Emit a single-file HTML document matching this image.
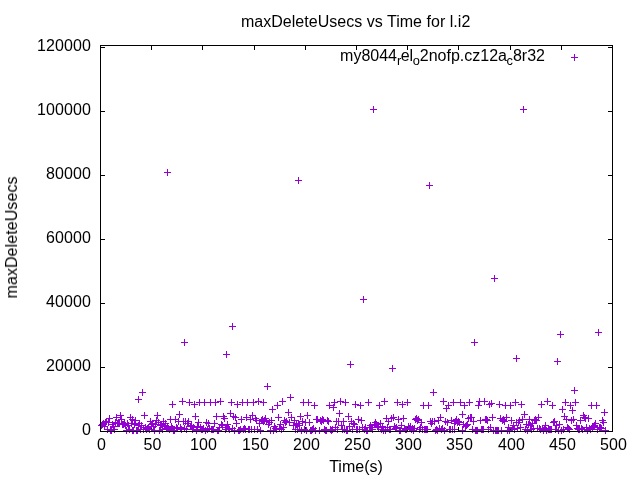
<!DOCTYPE html>
<html><head><meta charset="utf-8"><title>maxDeleteUsecs vs Time for l.i2</title>
<style>
html,body{margin:0;padding:0;background:#fff;}
body{width:640px;height:480px;overflow:hidden;}
svg{display:block;}
.t{will-change:transform;}
text{font-family:"Liberation Sans",Arial,sans-serif;font-size:16px;fill:#000;}
.b{fill:#000;}
.p{fill:#9400d3;}
</style></head><body>
<svg width="640" height="480" viewBox="0 0 640 480">
<rect x="0" y="0" width="640" height="480" fill="#fff"/>
<g shape-rendering="crispEdges">

<rect class="b" x="100" y="427" width="1" height="5"/>
<rect class="b" x="100" y="45" width="1" height="5"/>
<rect class="b" x="151" y="427" width="1" height="5"/>
<rect class="b" x="151" y="45" width="1" height="5"/>
<rect class="b" x="202" y="427" width="1" height="5"/>
<rect class="b" x="202" y="45" width="1" height="5"/>
<rect class="b" x="254" y="427" width="1" height="5"/>
<rect class="b" x="254" y="45" width="1" height="5"/>
<rect class="b" x="305" y="427" width="1" height="5"/>
<rect class="b" x="305" y="45" width="1" height="5"/>
<rect class="b" x="356" y="427" width="1" height="5"/>
<rect class="b" x="356" y="45" width="1" height="5"/>
<rect class="b" x="407" y="427" width="1" height="5"/>
<rect class="b" x="407" y="45" width="1" height="5"/>
<rect class="b" x="458" y="427" width="1" height="5"/>
<rect class="b" x="458" y="45" width="1" height="5"/>
<rect class="b" x="510" y="427" width="1" height="5"/>
<rect class="b" x="510" y="45" width="1" height="5"/>
<rect class="b" x="561" y="427" width="1" height="5"/>
<rect class="b" x="561" y="45" width="1" height="5"/>
<rect class="b" x="612" y="427" width="1" height="5"/>
<rect class="b" x="612" y="45" width="1" height="5"/>
<rect class="b" x="100" y="431" width="5" height="1"/>
<rect class="b" x="608" y="431" width="5" height="1"/>
<rect class="b" x="100" y="367" width="5" height="1"/>
<rect class="b" x="608" y="367" width="5" height="1"/>
<rect class="b" x="100" y="303" width="5" height="1"/>
<rect class="b" x="608" y="303" width="5" height="1"/>
<rect class="b" x="100" y="239" width="5" height="1"/>
<rect class="b" x="608" y="239" width="5" height="1"/>
<rect class="b" x="100" y="175" width="5" height="1"/>
<rect class="b" x="608" y="175" width="5" height="1"/>
<rect class="b" x="100" y="111" width="5" height="1"/>
<rect class="b" x="608" y="111" width="5" height="1"/>
<rect class="b" x="100" y="47" width="5" height="1"/>
<rect class="b" x="608" y="47" width="5" height="1"/>
<path class="p" d="M98 425h7v1h-7zM101 422h1v7h-1z"/>
<path class="p" d="M99 424h7v1h-7zM102 421h1v7h-1z"/>
<path class="p" d="M100 423h7v1h-7zM103 420h1v7h-1z"/>
<path class="p" d="M101 426h7v1h-7zM104 423h1v7h-1z"/>
<path class="p" d="M102 422h7v1h-7zM105 419h1v7h-1z"/>
<path class="p" d="M103 421h7v1h-7zM106 418h1v7h-1z"/>
<path class="p" d="M104 429h7v1h-7zM107 426h1v7h-1z"/>
<path class="p" d="M105 422h7v1h-7zM108 419h1v7h-1z"/>
<path class="p" d="M106 418h7v1h-7zM109 415h1v7h-1z"/>
<path class="p" d="M107 430h7v1h-7zM110 427h1v7h-1z"/>
<path class="p" d="M108 430h7v1h-7zM111 427h1v7h-1z"/>
<path class="p" d="M109 424h7v1h-7zM112 421h1v7h-1z"/>
<path class="p" d="M110 426h7v1h-7zM113 423h1v7h-1z"/>
<path class="p" d="M111 429h7v1h-7zM114 426h1v7h-1z"/>
<path class="p" d="M112 422h7v1h-7zM115 419h1v7h-1z"/>
<path class="p" d="M113 417h7v1h-7zM116 414h1v7h-1z"/>
<path class="p" d="M114 423h7v1h-7zM117 420h1v7h-1z"/>
<path class="p" d="M115 423h7v1h-7zM118 420h1v7h-1z"/>
<path class="p" d="M116 423h7v1h-7zM119 420h1v7h-1z"/>
<path class="p" d="M117 415h7v1h-7zM120 412h1v7h-1z"/>
<path class="p" d="M118 419h7v1h-7zM121 416h1v7h-1z"/>
<path class="p" d="M119 424h7v1h-7zM122 421h1v7h-1z"/>
<path class="p" d="M120 424h7v1h-7zM123 421h1v7h-1z"/>
<path class="p" d="M121 423h7v1h-7zM124 420h1v7h-1z"/>
<path class="p" d="M122 425h7v1h-7zM125 422h1v7h-1z"/>
<path class="p" d="M123 430h7v1h-7zM126 427h1v7h-1z"/>
<path class="p" d="M124 423h7v1h-7zM127 420h1v7h-1z"/>
<path class="p" d="M125 425h7v1h-7zM128 422h1v7h-1z"/>
<path class="p" d="M126 429h7v1h-7zM129 426h1v7h-1z"/>
<path class="p" d="M127 417h7v1h-7zM130 414h1v7h-1z"/>
<path class="p" d="M128 423h7v1h-7zM131 420h1v7h-1z"/>
<path class="p" d="M129 419h7v1h-7zM132 416h1v7h-1z"/>
<path class="p" d="M129 430h7v1h-7zM132 427h1v7h-1z"/>
<path class="p" d="M130 430h7v1h-7zM133 427h1v7h-1z"/>
<path class="p" d="M131 424h7v1h-7zM134 421h1v7h-1z"/>
<path class="p" d="M132 420h7v1h-7zM135 417h1v7h-1z"/>
<path class="p" d="M133 430h7v1h-7zM136 427h1v7h-1z"/>
<path class="p" d="M134 430h7v1h-7zM137 427h1v7h-1z"/>
<path class="p" d="M135 399h7v1h-7zM138 396h1v7h-1z"/>
<path class="p" d="M135 425h7v1h-7zM138 422h1v7h-1z"/>
<path class="p" d="M136 423h7v1h-7zM139 420h1v7h-1z"/>
<path class="p" d="M137 429h7v1h-7zM140 426h1v7h-1z"/>
<path class="p" d="M138 425h7v1h-7zM141 422h1v7h-1z"/>
<path class="p" d="M139 392h7v1h-7zM142 389h1v7h-1z"/>
<path class="p" d="M140 429h7v1h-7zM143 426h1v7h-1z"/>
<path class="p" d="M141 415h7v1h-7zM144 412h1v7h-1z"/>
<path class="p" d="M142 427h7v1h-7zM145 424h1v7h-1z"/>
<path class="p" d="M143 429h7v1h-7zM146 426h1v7h-1z"/>
<path class="p" d="M144 428h7v1h-7zM147 425h1v7h-1z"/>
<path class="p" d="M145 427h7v1h-7zM148 424h1v7h-1z"/>
<path class="p" d="M146 429h7v1h-7zM149 426h1v7h-1z"/>
<path class="p" d="M147 421h7v1h-7zM150 418h1v7h-1z"/>
<path class="p" d="M148 424h7v1h-7zM151 421h1v7h-1z"/>
<path class="p" d="M149 423h7v1h-7zM152 420h1v7h-1z"/>
<path class="p" d="M150 426h7v1h-7zM153 423h1v7h-1z"/>
<path class="p" d="M151 430h7v1h-7zM154 427h1v7h-1z"/>
<path class="p" d="M152 424h7v1h-7zM155 421h1v7h-1z"/>
<path class="p" d="M153 420h7v1h-7zM156 417h1v7h-1z"/>
<path class="p" d="M154 415h7v1h-7zM157 412h1v7h-1z"/>
<path class="p" d="M155 422h7v1h-7zM158 419h1v7h-1z"/>
<path class="p" d="M156 430h7v1h-7zM159 427h1v7h-1z"/>
<path class="p" d="M157 425h7v1h-7zM160 422h1v7h-1z"/>
<path class="p" d="M158 424h7v1h-7zM161 421h1v7h-1z"/>
<path class="p" d="M159 429h7v1h-7zM162 426h1v7h-1z"/>
<path class="p" d="M160 421h7v1h-7zM163 418h1v7h-1z"/>
<path class="p" d="M161 426h7v1h-7zM164 423h1v7h-1z"/>
<path class="p" d="M162 423h7v1h-7zM165 420h1v7h-1z"/>
<path class="p" d="M163 428h7v1h-7zM166 425h1v7h-1z"/>
<path class="p" d="M164 172h7v1h-7zM167 169h1v7h-1z"/>
<path class="p" d="M164 427h7v1h-7zM167 424h1v7h-1z"/>
<path class="p" d="M165 428h7v1h-7zM168 425h1v7h-1z"/>
<path class="p" d="M166 429h7v1h-7zM169 426h1v7h-1z"/>
<path class="p" d="M167 419h7v1h-7zM170 416h1v7h-1z"/>
<path class="p" d="M168 426h7v1h-7zM171 423h1v7h-1z"/>
<path class="p" d="M169 404h7v1h-7zM172 401h1v7h-1z"/>
<path class="p" d="M169 428h7v1h-7zM172 425h1v7h-1z"/>
<path class="p" d="M170 430h7v1h-7zM173 427h1v7h-1z"/>
<path class="p" d="M171 430h7v1h-7zM174 427h1v7h-1z"/>
<path class="p" d="M172 419h7v1h-7zM175 416h1v7h-1z"/>
<path class="p" d="M173 427h7v1h-7zM176 424h1v7h-1z"/>
<path class="p" d="M174 428h7v1h-7zM177 425h1v7h-1z"/>
<path class="p" d="M175 421h7v1h-7zM178 418h1v7h-1z"/>
<path class="p" d="M176 414h7v1h-7zM179 411h1v7h-1z"/>
<path class="p" d="M177 427h7v1h-7zM180 424h1v7h-1z"/>
<path class="p" d="M178 429h7v1h-7zM181 426h1v7h-1z"/>
<path class="p" d="M179 401h7v1h-7zM182 398h1v7h-1z"/>
<path class="p" d="M180 421h7v1h-7zM183 418h1v7h-1z"/>
<path class="p" d="M181 342h7v1h-7zM184 339h1v7h-1z"/>
<path class="p" d="M181 428h7v1h-7zM184 425h1v7h-1z"/>
<path class="p" d="M182 421h7v1h-7zM185 418h1v7h-1z"/>
<path class="p" d="M183 429h7v1h-7zM186 426h1v7h-1z"/>
<path class="p" d="M184 423h7v1h-7zM187 420h1v7h-1z"/>
<path class="p" d="M185 421h7v1h-7zM188 418h1v7h-1z"/>
<path class="p" d="M186 402h7v1h-7zM189 399h1v7h-1z"/>
<path class="p" d="M187 426h7v1h-7zM190 423h1v7h-1z"/>
<path class="p" d="M188 425h7v1h-7zM191 422h1v7h-1z"/>
<path class="p" d="M189 429h7v1h-7zM192 426h1v7h-1z"/>
<path class="p" d="M190 427h7v1h-7zM193 424h1v7h-1z"/>
<path class="p" d="M191 404h7v1h-7zM194 401h1v7h-1z"/>
<path class="p" d="M192 416h7v1h-7zM195 413h1v7h-1z"/>
<path class="p" d="M193 430h7v1h-7zM196 427h1v7h-1z"/>
<path class="p" d="M194 426h7v1h-7zM197 423h1v7h-1z"/>
<path class="p" d="M195 422h7v1h-7zM198 419h1v7h-1z"/>
<path class="p" d="M196 402h7v1h-7zM199 399h1v7h-1z"/>
<path class="p" d="M197 427h7v1h-7zM200 424h1v7h-1z"/>
<path class="p" d="M198 429h7v1h-7zM201 426h1v7h-1z"/>
<path class="p" d="M199 429h7v1h-7zM202 426h1v7h-1z"/>
<path class="p" d="M200 428h7v1h-7zM203 425h1v7h-1z"/>
<path class="p" d="M201 402h7v1h-7zM204 399h1v7h-1z"/>
<path class="p" d="M202 430h7v1h-7zM205 427h1v7h-1z"/>
<path class="p" d="M203 422h7v1h-7zM206 419h1v7h-1z"/>
<path class="p" d="M204 429h7v1h-7zM207 426h1v7h-1z"/>
<path class="p" d="M205 423h7v1h-7zM208 420h1v7h-1z"/>
<path class="p" d="M206 428h7v1h-7zM209 425h1v7h-1z"/>
<path class="p" d="M207 402h7v1h-7zM210 399h1v7h-1z"/>
<path class="p" d="M208 429h7v1h-7zM211 426h1v7h-1z"/>
<path class="p" d="M209 429h7v1h-7zM212 426h1v7h-1z"/>
<path class="p" d="M210 429h7v1h-7zM213 426h1v7h-1z"/>
<path class="p" d="M211 423h7v1h-7zM214 420h1v7h-1z"/>
<path class="p" d="M212 402h7v1h-7zM215 399h1v7h-1z"/>
<path class="p" d="M213 416h7v1h-7zM216 413h1v7h-1z"/>
<path class="p" d="M214 430h7v1h-7zM217 427h1v7h-1z"/>
<path class="p" d="M215 430h7v1h-7zM218 427h1v7h-1z"/>
<path class="p" d="M216 427h7v1h-7zM219 424h1v7h-1z"/>
<path class="p" d="M217 401h7v1h-7zM220 398h1v7h-1z"/>
<path class="p" d="M218 424h7v1h-7zM221 421h1v7h-1z"/>
<path class="p" d="M219 425h7v1h-7zM222 422h1v7h-1z"/>
<path class="p" d="M220 416h7v1h-7zM223 413h1v7h-1z"/>
<path class="p" d="M221 418h7v1h-7zM224 415h1v7h-1z"/>
<path class="p" d="M222 429h7v1h-7zM225 426h1v7h-1z"/>
<path class="p" d="M223 354h7v1h-7zM226 351h1v7h-1z"/>
<path class="p" d="M223 427h7v1h-7zM226 424h1v7h-1z"/>
<path class="p" d="M224 424h7v1h-7zM227 421h1v7h-1z"/>
<path class="p" d="M225 428h7v1h-7zM228 425h1v7h-1z"/>
<path class="p" d="M226 429h7v1h-7zM229 426h1v7h-1z"/>
<path class="p" d="M227 413h7v1h-7zM230 410h1v7h-1z"/>
<path class="p" d="M228 402h7v1h-7zM231 399h1v7h-1z"/>
<path class="p" d="M229 326h7v1h-7zM232 323h1v7h-1z"/>
<path class="p" d="M229 428h7v1h-7zM232 425h1v7h-1z"/>
<path class="p" d="M230 416h7v1h-7zM233 413h1v7h-1z"/>
<path class="p" d="M231 430h7v1h-7zM234 427h1v7h-1z"/>
<path class="p" d="M232 417h7v1h-7zM235 414h1v7h-1z"/>
<path class="p" d="M233 423h7v1h-7zM236 420h1v7h-1z"/>
<path class="p" d="M234 404h7v1h-7zM237 401h1v7h-1z"/>
<path class="p" d="M235 430h7v1h-7zM238 427h1v7h-1z"/>
<path class="p" d="M236 430h7v1h-7zM239 427h1v7h-1z"/>
<path class="p" d="M237 429h7v1h-7zM240 426h1v7h-1z"/>
<path class="p" d="M238 419h7v1h-7zM241 416h1v7h-1z"/>
<path class="p" d="M239 402h7v1h-7zM242 399h1v7h-1z"/>
<path class="p" d="M240 429h7v1h-7zM243 426h1v7h-1z"/>
<path class="p" d="M241 428h7v1h-7zM244 425h1v7h-1z"/>
<path class="p" d="M242 429h7v1h-7zM245 426h1v7h-1z"/>
<path class="p" d="M243 417h7v1h-7zM246 414h1v7h-1z"/>
<path class="p" d="M244 402h7v1h-7zM247 399h1v7h-1z"/>
<path class="p" d="M245 429h7v1h-7zM248 426h1v7h-1z"/>
<path class="p" d="M246 429h7v1h-7zM249 426h1v7h-1z"/>
<path class="p" d="M247 419h7v1h-7zM250 416h1v7h-1z"/>
<path class="p" d="M248 429h7v1h-7zM251 426h1v7h-1z"/>
<path class="p" d="M249 415h7v1h-7zM252 412h1v7h-1z"/>
<path class="p" d="M250 402h7v1h-7zM253 399h1v7h-1z"/>
<path class="p" d="M251 429h7v1h-7zM254 426h1v7h-1z"/>
<path class="p" d="M252 418h7v1h-7zM255 415h1v7h-1z"/>
<path class="p" d="M253 420h7v1h-7zM256 417h1v7h-1z"/>
<path class="p" d="M254 429h7v1h-7zM257 426h1v7h-1z"/>
<path class="p" d="M255 401h7v1h-7zM258 398h1v7h-1z"/>
<path class="p" d="M256 423h7v1h-7zM259 420h1v7h-1z"/>
<path class="p" d="M257 430h7v1h-7zM260 427h1v7h-1z"/>
<path class="p" d="M258 420h7v1h-7zM261 417h1v7h-1z"/>
<path class="p" d="M259 419h7v1h-7zM262 416h1v7h-1z"/>
<path class="p" d="M260 402h7v1h-7zM263 399h1v7h-1z"/>
<path class="p" d="M260 421h7v1h-7zM263 418h1v7h-1z"/>
<path class="p" d="M261 420h7v1h-7zM264 417h1v7h-1z"/>
<path class="p" d="M262 418h7v1h-7zM265 415h1v7h-1z"/>
<path class="p" d="M263 421h7v1h-7zM266 418h1v7h-1z"/>
<path class="p" d="M264 386h7v1h-7zM267 383h1v7h-1z"/>
<path class="p" d="M265 424h7v1h-7zM268 421h1v7h-1z"/>
<path class="p" d="M266 422h7v1h-7zM269 419h1v7h-1z"/>
<path class="p" d="M267 430h7v1h-7zM270 427h1v7h-1z"/>
<path class="p" d="M268 420h7v1h-7zM271 417h1v7h-1z"/>
<path class="p" d="M269 409h7v1h-7zM272 406h1v7h-1z"/>
<path class="p" d="M270 430h7v1h-7zM273 427h1v7h-1z"/>
<path class="p" d="M271 426h7v1h-7zM274 423h1v7h-1z"/>
<path class="p" d="M272 428h7v1h-7zM275 425h1v7h-1z"/>
<path class="p" d="M273 429h7v1h-7zM276 426h1v7h-1z"/>
<path class="p" d="M274 405h7v1h-7zM277 402h1v7h-1z"/>
<path class="p" d="M275 417h7v1h-7zM278 414h1v7h-1z"/>
<path class="p" d="M276 428h7v1h-7zM279 425h1v7h-1z"/>
<path class="p" d="M277 424h7v1h-7zM280 421h1v7h-1z"/>
<path class="p" d="M278 429h7v1h-7zM281 426h1v7h-1z"/>
<path class="p" d="M279 401h7v1h-7zM282 398h1v7h-1z"/>
<path class="p" d="M280 427h7v1h-7zM283 424h1v7h-1z"/>
<path class="p" d="M281 420h7v1h-7zM284 417h1v7h-1z"/>
<path class="p" d="M282 422h7v1h-7zM285 419h1v7h-1z"/>
<path class="p" d="M283 421h7v1h-7zM286 418h1v7h-1z"/>
<path class="p" d="M285 412h7v1h-7zM288 409h1v7h-1z"/>
<path class="p" d="M286 422h7v1h-7zM289 419h1v7h-1z"/>
<path class="p" d="M287 397h7v1h-7zM290 394h1v7h-1z"/>
<path class="p" d="M288 417h7v1h-7zM291 414h1v7h-1z"/>
<path class="p" d="M290 425h7v1h-7zM293 422h1v7h-1z"/>
<path class="p" d="M291 420h7v1h-7zM294 417h1v7h-1z"/>
<path class="p" d="M292 429h7v1h-7zM295 426h1v7h-1z"/>
<path class="p" d="M293 424h7v1h-7zM296 421h1v7h-1z"/>
<path class="p" d="M294 429h7v1h-7zM297 426h1v7h-1z"/>
<path class="p" d="M295 180h7v1h-7zM298 177h1v7h-1z"/>
<path class="p" d="M295 423h7v1h-7zM298 420h1v7h-1z"/>
<path class="p" d="M296 425h7v1h-7zM299 422h1v7h-1z"/>
<path class="p" d="M297 416h7v1h-7zM300 413h1v7h-1z"/>
<path class="p" d="M298 430h7v1h-7zM301 427h1v7h-1z"/>
<path class="p" d="M299 421h7v1h-7zM302 418h1v7h-1z"/>
<path class="p" d="M300 402h7v1h-7zM303 399h1v7h-1z"/>
<path class="p" d="M301 429h7v1h-7zM304 426h1v7h-1z"/>
<path class="p" d="M302 422h7v1h-7zM305 419h1v7h-1z"/>
<path class="p" d="M303 430h7v1h-7zM306 427h1v7h-1z"/>
<path class="p" d="M304 415h7v1h-7zM307 412h1v7h-1z"/>
<path class="p" d="M305 402h7v1h-7zM308 399h1v7h-1z"/>
<path class="p" d="M306 422h7v1h-7zM309 419h1v7h-1z"/>
<path class="p" d="M307 430h7v1h-7zM310 427h1v7h-1z"/>
<path class="p" d="M308 430h7v1h-7zM311 427h1v7h-1z"/>
<path class="p" d="M309 429h7v1h-7zM312 426h1v7h-1z"/>
<path class="p" d="M310 428h7v1h-7zM313 425h1v7h-1z"/>
<path class="p" d="M311 405h7v1h-7zM314 402h1v7h-1z"/>
<path class="p" d="M312 430h7v1h-7zM315 427h1v7h-1z"/>
<path class="p" d="M313 419h7v1h-7zM316 416h1v7h-1z"/>
<path class="p" d="M314 419h7v1h-7zM317 416h1v7h-1z"/>
<path class="p" d="M316 430h7v1h-7zM319 427h1v7h-1z"/>
<path class="p" d="M317 420h7v1h-7zM320 417h1v7h-1z"/>
<path class="p" d="M318 421h7v1h-7zM321 418h1v7h-1z"/>
<path class="p" d="M319 419h7v1h-7zM322 416h1v7h-1z"/>
<path class="p" d="M320 420h7v1h-7zM323 417h1v7h-1z"/>
<path class="p" d="M321 429h7v1h-7zM324 426h1v7h-1z"/>
<path class="p" d="M322 430h7v1h-7zM325 427h1v7h-1z"/>
<path class="p" d="M323 430h7v1h-7zM326 427h1v7h-1z"/>
<path class="p" d="M324 420h7v1h-7zM327 417h1v7h-1z"/>
<path class="p" d="M325 421h7v1h-7zM328 418h1v7h-1z"/>
<path class="p" d="M326 405h7v1h-7zM329 402h1v7h-1z"/>
<path class="p" d="M327 429h7v1h-7zM330 426h1v7h-1z"/>
<path class="p" d="M328 430h7v1h-7zM331 427h1v7h-1z"/>
<path class="p" d="M329 429h7v1h-7zM332 426h1v7h-1z"/>
<path class="p" d="M330 407h7v1h-7zM333 404h1v7h-1z"/>
<path class="p" d="M331 402h7v1h-7zM334 399h1v7h-1z"/>
<path class="p" d="M332 427h7v1h-7zM335 424h1v7h-1z"/>
<path class="p" d="M333 421h7v1h-7zM336 418h1v7h-1z"/>
<path class="p" d="M334 429h7v1h-7zM337 426h1v7h-1z"/>
<path class="p" d="M335 421h7v1h-7zM338 418h1v7h-1z"/>
<path class="p" d="M336 413h7v1h-7zM339 410h1v7h-1z"/>
<path class="p" d="M337 401h7v1h-7zM340 398h1v7h-1z"/>
<path class="p" d="M338 425h7v1h-7zM341 422h1v7h-1z"/>
<path class="p" d="M339 429h7v1h-7zM342 426h1v7h-1z"/>
<path class="p" d="M340 421h7v1h-7zM343 418h1v7h-1z"/>
<path class="p" d="M341 429h7v1h-7zM344 426h1v7h-1z"/>
<path class="p" d="M342 402h7v1h-7zM345 399h1v7h-1z"/>
<path class="p" d="M343 430h7v1h-7zM346 427h1v7h-1z"/>
<path class="p" d="M344 430h7v1h-7zM347 427h1v7h-1z"/>
<path class="p" d="M345 416h7v1h-7zM348 413h1v7h-1z"/>
<path class="p" d="M346 426h7v1h-7zM349 423h1v7h-1z"/>
<path class="p" d="M347 364h7v1h-7zM350 361h1v7h-1z"/>
<path class="p" d="M348 421h7v1h-7zM351 418h1v7h-1z"/>
<path class="p" d="M349 429h7v1h-7zM352 426h1v7h-1z"/>
<path class="p" d="M350 423h7v1h-7zM353 420h1v7h-1z"/>
<path class="p" d="M351 424h7v1h-7zM354 421h1v7h-1z"/>
<path class="p" d="M352 404h7v1h-7zM355 401h1v7h-1z"/>
<path class="p" d="M353 429h7v1h-7zM356 426h1v7h-1z"/>
<path class="p" d="M354 429h7v1h-7zM357 426h1v7h-1z"/>
<path class="p" d="M355 419h7v1h-7zM358 416h1v7h-1z"/>
<path class="p" d="M356 429h7v1h-7zM359 426h1v7h-1z"/>
<path class="p" d="M357 405h7v1h-7zM360 402h1v7h-1z"/>
<path class="p" d="M358 420h7v1h-7zM361 417h1v7h-1z"/>
<path class="p" d="M359 427h7v1h-7zM362 424h1v7h-1z"/>
<path class="p" d="M360 299h7v1h-7zM363 296h1v7h-1z"/>
<path class="p" d="M361 429h7v1h-7zM364 426h1v7h-1z"/>
<path class="p" d="M362 427h7v1h-7zM365 424h1v7h-1z"/>
<path class="p" d="M363 430h7v1h-7zM366 427h1v7h-1z"/>
<path class="p" d="M364 430h7v1h-7zM367 427h1v7h-1z"/>
<path class="p" d="M365 402h7v1h-7zM368 399h1v7h-1z"/>
<path class="p" d="M366 427h7v1h-7zM369 424h1v7h-1z"/>
<path class="p" d="M367 425h7v1h-7zM370 422h1v7h-1z"/>
<path class="p" d="M368 427h7v1h-7zM371 424h1v7h-1z"/>
<path class="p" d="M369 429h7v1h-7zM372 426h1v7h-1z"/>
<path class="p" d="M370 109h7v1h-7zM373 106h1v7h-1z"/>
<path class="p" d="M371 424h7v1h-7zM374 421h1v7h-1z"/>
<path class="p" d="M372 422h7v1h-7zM375 419h1v7h-1z"/>
<path class="p" d="M373 424h7v1h-7zM376 421h1v7h-1z"/>
<path class="p" d="M374 426h7v1h-7zM377 423h1v7h-1z"/>
<path class="p" d="M375 427h7v1h-7zM378 424h1v7h-1z"/>
<path class="p" d="M376 405h7v1h-7zM379 402h1v7h-1z"/>
<path class="p" d="M377 423h7v1h-7zM380 420h1v7h-1z"/>
<path class="p" d="M378 429h7v1h-7zM381 426h1v7h-1z"/>
<path class="p" d="M379 426h7v1h-7zM382 423h1v7h-1z"/>
<path class="p" d="M380 430h7v1h-7zM383 427h1v7h-1z"/>
<path class="p" d="M381 401h7v1h-7zM384 398h1v7h-1z"/>
<path class="p" d="M382 430h7v1h-7zM385 427h1v7h-1z"/>
<path class="p" d="M383 418h7v1h-7zM386 415h1v7h-1z"/>
<path class="p" d="M384 427h7v1h-7zM387 424h1v7h-1z"/>
<path class="p" d="M385 421h7v1h-7zM388 418h1v7h-1z"/>
<path class="p" d="M386 429h7v1h-7zM389 426h1v7h-1z"/>
<path class="p" d="M387 429h7v1h-7zM390 426h1v7h-1z"/>
<path class="p" d="M388 418h7v1h-7zM391 415h1v7h-1z"/>
<path class="p" d="M389 368h7v1h-7zM392 365h1v7h-1z"/>
<path class="p" d="M390 417h7v1h-7zM393 414h1v7h-1z"/>
<path class="p" d="M391 426h7v1h-7zM394 423h1v7h-1z"/>
<path class="p" d="M392 428h7v1h-7zM395 425h1v7h-1z"/>
<path class="p" d="M393 427h7v1h-7zM396 424h1v7h-1z"/>
<path class="p" d="M394 402h7v1h-7zM397 399h1v7h-1z"/>
<path class="p" d="M395 419h7v1h-7zM398 416h1v7h-1z"/>
<path class="p" d="M396 430h7v1h-7zM399 427h1v7h-1z"/>
<path class="p" d="M397 430h7v1h-7zM400 427h1v7h-1z"/>
<path class="p" d="M398 425h7v1h-7zM401 422h1v7h-1z"/>
<path class="p" d="M399 404h7v1h-7zM402 401h1v7h-1z"/>
<path class="p" d="M400 418h7v1h-7zM403 415h1v7h-1z"/>
<path class="p" d="M401 428h7v1h-7zM404 425h1v7h-1z"/>
<path class="p" d="M402 429h7v1h-7zM405 426h1v7h-1z"/>
<path class="p" d="M403 429h7v1h-7zM406 426h1v7h-1z"/>
<path class="p" d="M404 402h7v1h-7zM407 399h1v7h-1z"/>
<path class="p" d="M405 426h7v1h-7zM408 423h1v7h-1z"/>
<path class="p" d="M406 428h7v1h-7zM409 425h1v7h-1z"/>
<path class="p" d="M407 426h7v1h-7zM410 423h1v7h-1z"/>
<path class="p" d="M408 429h7v1h-7zM411 426h1v7h-1z"/>
<path class="p" d="M409 428h7v1h-7zM412 425h1v7h-1z"/>
<path class="p" d="M410 430h7v1h-7zM413 427h1v7h-1z"/>
<path class="p" d="M411 428h7v1h-7zM414 425h1v7h-1z"/>
<path class="p" d="M412 419h7v1h-7zM415 416h1v7h-1z"/>
<path class="p" d="M413 418h7v1h-7zM416 415h1v7h-1z"/>
<path class="p" d="M414 420h7v1h-7zM417 417h1v7h-1z"/>
<path class="p" d="M415 419h7v1h-7zM418 416h1v7h-1z"/>
<path class="p" d="M416 429h7v1h-7zM419 426h1v7h-1z"/>
<path class="p" d="M417 427h7v1h-7zM420 424h1v7h-1z"/>
<path class="p" d="M418 422h7v1h-7zM421 419h1v7h-1z"/>
<path class="p" d="M419 429h7v1h-7zM422 426h1v7h-1z"/>
<path class="p" d="M420 405h7v1h-7zM423 402h1v7h-1z"/>
<path class="p" d="M421 429h7v1h-7zM424 426h1v7h-1z"/>
<path class="p" d="M422 429h7v1h-7zM425 426h1v7h-1z"/>
<path class="p" d="M423 429h7v1h-7zM426 426h1v7h-1z"/>
<path class="p" d="M424 429h7v1h-7zM427 426h1v7h-1z"/>
<path class="p" d="M425 405h7v1h-7zM428 402h1v7h-1z"/>
<path class="p" d="M426 185h7v1h-7zM429 182h1v7h-1z"/>
<path class="p" d="M427 421h7v1h-7zM430 418h1v7h-1z"/>
<path class="p" d="M428 423h7v1h-7zM431 420h1v7h-1z"/>
<path class="p" d="M429 421h7v1h-7zM432 418h1v7h-1z"/>
<path class="p" d="M430 392h7v1h-7zM433 389h1v7h-1z"/>
<path class="p" d="M431 421h7v1h-7zM434 418h1v7h-1z"/>
<path class="p" d="M432 430h7v1h-7zM435 427h1v7h-1z"/>
<path class="p" d="M433 429h7v1h-7zM436 426h1v7h-1z"/>
<path class="p" d="M434 430h7v1h-7zM437 427h1v7h-1z"/>
<path class="p" d="M435 420h7v1h-7zM438 417h1v7h-1z"/>
<path class="p" d="M436 428h7v1h-7zM439 425h1v7h-1z"/>
<path class="p" d="M437 417h7v1h-7zM440 414h1v7h-1z"/>
<path class="p" d="M438 429h7v1h-7zM441 426h1v7h-1z"/>
<path class="p" d="M439 428h7v1h-7zM442 425h1v7h-1z"/>
<path class="p" d="M440 401h7v1h-7zM443 398h1v7h-1z"/>
<path class="p" d="M441 430h7v1h-7zM444 427h1v7h-1z"/>
<path class="p" d="M442 421h7v1h-7zM445 418h1v7h-1z"/>
<path class="p" d="M443 408h7v1h-7zM446 405h1v7h-1z"/>
<path class="p" d="M444 422h7v1h-7zM447 419h1v7h-1z"/>
<path class="p" d="M445 405h7v1h-7zM448 402h1v7h-1z"/>
<path class="p" d="M446 429h7v1h-7zM449 426h1v7h-1z"/>
<path class="p" d="M447 429h7v1h-7zM450 426h1v7h-1z"/>
<path class="p" d="M448 420h7v1h-7zM451 417h1v7h-1z"/>
<path class="p" d="M449 429h7v1h-7zM452 426h1v7h-1z"/>
<path class="p" d="M450 402h7v1h-7zM453 399h1v7h-1z"/>
<path class="p" d="M451 423h7v1h-7zM454 420h1v7h-1z"/>
<path class="p" d="M451 429h7v1h-7zM454 426h1v7h-1z"/>
<path class="p" d="M452 421h7v1h-7zM455 418h1v7h-1z"/>
<path class="p" d="M453 419h7v1h-7zM456 416h1v7h-1z"/>
<path class="p" d="M454 422h7v1h-7zM457 419h1v7h-1z"/>
<path class="p" d="M455 421h7v1h-7zM458 418h1v7h-1z"/>
<path class="p" d="M456 422h7v1h-7zM459 419h1v7h-1z"/>
<path class="p" d="M457 402h7v1h-7zM460 399h1v7h-1z"/>
<path class="p" d="M459 414h7v1h-7zM462 411h1v7h-1z"/>
<path class="p" d="M459 430h7v1h-7zM462 427h1v7h-1z"/>
<path class="p" d="M460 424h7v1h-7zM463 421h1v7h-1z"/>
<path class="p" d="M461 405h7v1h-7zM464 402h1v7h-1z"/>
<path class="p" d="M462 426h7v1h-7zM465 423h1v7h-1z"/>
<path class="p" d="M463 425h7v1h-7zM466 422h1v7h-1z"/>
<path class="p" d="M464 424h7v1h-7zM467 421h1v7h-1z"/>
<path class="p" d="M465 418h7v1h-7zM468 415h1v7h-1z"/>
<path class="p" d="M466 402h7v1h-7zM469 399h1v7h-1z"/>
<path class="p" d="M467 417h7v1h-7zM470 414h1v7h-1z"/>
<path class="p" d="M468 417h7v1h-7zM471 414h1v7h-1z"/>
<path class="p" d="M469 429h7v1h-7zM472 426h1v7h-1z"/>
<path class="p" d="M470 421h7v1h-7zM473 418h1v7h-1z"/>
<path class="p" d="M471 342h7v1h-7zM474 339h1v7h-1z"/>
<path class="p" d="M472 430h7v1h-7zM475 427h1v7h-1z"/>
<path class="p" d="M473 430h7v1h-7zM476 427h1v7h-1z"/>
<path class="p" d="M474 430h7v1h-7zM477 427h1v7h-1z"/>
<path class="p" d="M475 405h7v1h-7zM478 402h1v7h-1z"/>
<path class="p" d="M476 401h7v1h-7zM479 398h1v7h-1z"/>
<path class="p" d="M477 420h7v1h-7zM480 417h1v7h-1z"/>
<path class="p" d="M478 429h7v1h-7zM481 426h1v7h-1z"/>
<path class="p" d="M479 429h7v1h-7zM482 426h1v7h-1z"/>
<path class="p" d="M480 429h7v1h-7zM483 426h1v7h-1z"/>
<path class="p" d="M481 401h7v1h-7zM484 398h1v7h-1z"/>
<path class="p" d="M482 419h7v1h-7zM485 416h1v7h-1z"/>
<path class="p" d="M483 419h7v1h-7zM486 416h1v7h-1z"/>
<path class="p" d="M484 420h7v1h-7zM487 417h1v7h-1z"/>
<path class="p" d="M485 429h7v1h-7zM488 426h1v7h-1z"/>
<path class="p" d="M486 404h7v1h-7zM489 401h1v7h-1z"/>
<path class="p" d="M487 427h7v1h-7zM490 424h1v7h-1z"/>
<path class="p" d="M488 403h7v1h-7zM491 400h1v7h-1z"/>
<path class="p" d="M489 417h7v1h-7zM492 414h1v7h-1z"/>
<path class="p" d="M490 430h7v1h-7zM493 427h1v7h-1z"/>
<path class="p" d="M491 278h7v1h-7zM494 275h1v7h-1z"/>
<path class="p" d="M492 430h7v1h-7zM495 427h1v7h-1z"/>
<path class="p" d="M493 430h7v1h-7zM496 427h1v7h-1z"/>
<path class="p" d="M494 430h7v1h-7zM497 427h1v7h-1z"/>
<path class="p" d="M495 430h7v1h-7zM498 427h1v7h-1z"/>
<path class="p" d="M496 404h7v1h-7zM499 401h1v7h-1z"/>
<path class="p" d="M497 418h7v1h-7zM500 415h1v7h-1z"/>
<path class="p" d="M498 430h7v1h-7zM501 427h1v7h-1z"/>
<path class="p" d="M499 420h7v1h-7zM502 417h1v7h-1z"/>
<path class="p" d="M500 419h7v1h-7zM503 416h1v7h-1z"/>
<path class="p" d="M501 421h7v1h-7zM504 418h1v7h-1z"/>
<path class="p" d="M502 405h7v1h-7zM505 402h1v7h-1z"/>
<path class="p" d="M503 417h7v1h-7zM506 414h1v7h-1z"/>
<path class="p" d="M504 430h7v1h-7zM507 427h1v7h-1z"/>
<path class="p" d="M505 427h7v1h-7zM508 424h1v7h-1z"/>
<path class="p" d="M506 430h7v1h-7zM509 427h1v7h-1z"/>
<path class="p" d="M507 405h7v1h-7zM510 402h1v7h-1z"/>
<path class="p" d="M508 420h7v1h-7zM511 417h1v7h-1z"/>
<path class="p" d="M509 428h7v1h-7zM512 425h1v7h-1z"/>
<path class="p" d="M510 425h7v1h-7zM513 422h1v7h-1z"/>
<path class="p" d="M511 429h7v1h-7zM514 426h1v7h-1z"/>
<path class="p" d="M512 402h7v1h-7zM515 399h1v7h-1z"/>
<path class="p" d="M513 358h7v1h-7zM516 355h1v7h-1z"/>
<path class="p" d="M513 422h7v1h-7zM516 419h1v7h-1z"/>
<path class="p" d="M514 428h7v1h-7zM517 425h1v7h-1z"/>
<path class="p" d="M515 422h7v1h-7zM518 419h1v7h-1z"/>
<path class="p" d="M516 420h7v1h-7zM519 417h1v7h-1z"/>
<path class="p" d="M517 427h7v1h-7zM520 424h1v7h-1z"/>
<path class="p" d="M518 404h7v1h-7zM521 401h1v7h-1z"/>
<path class="p" d="M519 419h7v1h-7zM522 416h1v7h-1z"/>
<path class="p" d="M520 109h7v1h-7zM523 106h1v7h-1z"/>
<path class="p" d="M521 414h7v1h-7zM524 411h1v7h-1z"/>
<path class="p" d="M522 429h7v1h-7zM525 426h1v7h-1z"/>
<path class="p" d="M523 424h7v1h-7zM526 421h1v7h-1z"/>
<path class="p" d="M524 430h7v1h-7zM527 427h1v7h-1z"/>
<path class="p" d="M525 424h7v1h-7zM528 421h1v7h-1z"/>
<path class="p" d="M526 419h7v1h-7zM529 416h1v7h-1z"/>
<path class="p" d="M527 425h7v1h-7zM530 422h1v7h-1z"/>
<path class="p" d="M528 429h7v1h-7zM531 426h1v7h-1z"/>
<path class="p" d="M529 423h7v1h-7zM532 420h1v7h-1z"/>
<path class="p" d="M530 428h7v1h-7zM533 425h1v7h-1z"/>
<path class="p" d="M531 420h7v1h-7zM534 417h1v7h-1z"/>
<path class="p" d="M532 419h7v1h-7zM535 416h1v7h-1z"/>
<path class="p" d="M533 420h7v1h-7zM536 417h1v7h-1z"/>
<path class="p" d="M534 428h7v1h-7zM537 425h1v7h-1z"/>
<path class="p" d="M535 417h7v1h-7zM538 414h1v7h-1z"/>
<path class="p" d="M536 428h7v1h-7zM539 425h1v7h-1z"/>
<path class="p" d="M537 429h7v1h-7zM540 426h1v7h-1z"/>
<path class="p" d="M538 404h7v1h-7zM541 401h1v7h-1z"/>
<path class="p" d="M539 428h7v1h-7zM542 425h1v7h-1z"/>
<path class="p" d="M540 430h7v1h-7zM543 427h1v7h-1z"/>
<path class="p" d="M541 428h7v1h-7zM544 425h1v7h-1z"/>
<path class="p" d="M542 425h7v1h-7zM545 422h1v7h-1z"/>
<path class="p" d="M543 430h7v1h-7zM546 427h1v7h-1z"/>
<path class="p" d="M544 401h7v1h-7zM547 398h1v7h-1z"/>
<path class="p" d="M545 429h7v1h-7zM548 426h1v7h-1z"/>
<path class="p" d="M546 429h7v1h-7zM549 426h1v7h-1z"/>
<path class="p" d="M547 429h7v1h-7zM550 426h1v7h-1z"/>
<path class="p" d="M548 429h7v1h-7zM551 426h1v7h-1z"/>
<path class="p" d="M549 405h7v1h-7zM552 402h1v7h-1z"/>
<path class="p" d="M550 422h7v1h-7zM553 419h1v7h-1z"/>
<path class="p" d="M551 421h7v1h-7zM554 418h1v7h-1z"/>
<path class="p" d="M552 429h7v1h-7zM555 426h1v7h-1z"/>
<path class="p" d="M553 425h7v1h-7zM556 422h1v7h-1z"/>
<path class="p" d="M554 361h7v1h-7zM557 358h1v7h-1z"/>
<path class="p" d="M555 430h7v1h-7zM558 427h1v7h-1z"/>
<path class="p" d="M556 424h7v1h-7zM559 421h1v7h-1z"/>
<path class="p" d="M557 334h7v1h-7zM560 331h1v7h-1z"/>
<path class="p" d="M558 430h7v1h-7zM561 427h1v7h-1z"/>
<path class="p" d="M559 409h7v1h-7zM562 406h1v7h-1z"/>
<path class="p" d="M560 429h7v1h-7zM563 426h1v7h-1z"/>
<path class="p" d="M561 416h7v1h-7zM564 413h1v7h-1z"/>
<path class="p" d="M562 402h7v1h-7zM565 399h1v7h-1z"/>
<path class="p" d="M563 419h7v1h-7zM566 416h1v7h-1z"/>
<path class="p" d="M564 427h7v1h-7zM567 424h1v7h-1z"/>
<path class="p" d="M565 428h7v1h-7zM568 425h1v7h-1z"/>
<path class="p" d="M566 429h7v1h-7zM569 426h1v7h-1z"/>
<path class="p" d="M567 405h7v1h-7zM570 402h1v7h-1z"/>
<path class="p" d="M568 420h7v1h-7zM571 417h1v7h-1z"/>
<path class="p" d="M569 410h7v1h-7zM572 407h1v7h-1z"/>
<path class="p" d="M570 419h7v1h-7zM573 416h1v7h-1z"/>
<path class="p" d="M571 390h7v1h-7zM574 387h1v7h-1z"/>
<path class="p" d="M572 402h7v1h-7zM575 399h1v7h-1z"/>
<path class="p" d="M573 425h7v1h-7zM576 422h1v7h-1z"/>
<path class="p" d="M574 428h7v1h-7zM577 425h1v7h-1z"/>
<path class="p" d="M575 429h7v1h-7zM578 426h1v7h-1z"/>
<path class="p" d="M576 429h7v1h-7zM579 426h1v7h-1z"/>
<path class="p" d="M577 420h7v1h-7zM580 417h1v7h-1z"/>
<path class="p" d="M578 428h7v1h-7zM581 425h1v7h-1z"/>
<path class="p" d="M579 429h7v1h-7zM582 426h1v7h-1z"/>
<path class="p" d="M580 415h7v1h-7zM583 412h1v7h-1z"/>
<path class="p" d="M581 417h7v1h-7zM584 414h1v7h-1z"/>
<path class="p" d="M582 418h7v1h-7zM585 415h1v7h-1z"/>
<path class="p" d="M583 427h7v1h-7zM586 424h1v7h-1z"/>
<path class="p" d="M584 430h7v1h-7zM587 427h1v7h-1z"/>
<path class="p" d="M585 418h7v1h-7zM588 415h1v7h-1z"/>
<path class="p" d="M586 428h7v1h-7zM589 425h1v7h-1z"/>
<path class="p" d="M587 429h7v1h-7zM590 426h1v7h-1z"/>
<path class="p" d="M588 405h7v1h-7zM591 402h1v7h-1z"/>
<path class="p" d="M589 427h7v1h-7zM592 424h1v7h-1z"/>
<path class="p" d="M590 426h7v1h-7zM593 423h1v7h-1z"/>
<path class="p" d="M591 425h7v1h-7zM594 422h1v7h-1z"/>
<path class="p" d="M592 423h7v1h-7zM595 420h1v7h-1z"/>
<path class="p" d="M593 405h7v1h-7zM596 402h1v7h-1z"/>
<path class="p" d="M594 429h7v1h-7zM597 426h1v7h-1z"/>
<path class="p" d="M595 332h7v1h-7zM598 329h1v7h-1z"/>
<path class="p" d="M596 427h7v1h-7zM599 424h1v7h-1z"/>
<path class="p" d="M597 427h7v1h-7zM600 424h1v7h-1z"/>
<path class="p" d="M598 428h7v1h-7zM601 425h1v7h-1z"/>
<path class="p" d="M599 420h7v1h-7zM602 417h1v7h-1z"/>
<path class="p" d="M600 422h7v1h-7zM603 419h1v7h-1z"/>
<path class="p" d="M601 412h7v1h-7zM604 409h1v7h-1z"/>
<path class="p" d="M602 430h7v1h-7zM605 427h1v7h-1z"/>
<rect class="b" x="100" y="45" width="513" height="1"/>
<rect class="b" x="100" y="431" width="513" height="1"/>
<rect class="b" x="100" y="45" width="1" height="387"/>
<rect class="b" x="612" y="45" width="1" height="387"/>
<path class="p" d="M571 57h7v1h-7zM574 54h1v7h-1z"/>
</g>

<g class="t">
<text x="101.4" y="450" text-anchor="middle" textLength="9" lengthAdjust="spacing">0</text>
<text x="152.4" y="450" text-anchor="middle" textLength="18" lengthAdjust="spacing">50</text>
<text x="203.4" y="450" text-anchor="middle" textLength="27" lengthAdjust="spacing">100</text>
<text x="255.4" y="450" text-anchor="middle" textLength="27" lengthAdjust="spacing">150</text>
<text x="306.4" y="450" text-anchor="middle" textLength="27" lengthAdjust="spacing">200</text>
<text x="357.4" y="450" text-anchor="middle" textLength="27" lengthAdjust="spacing">250</text>
<text x="408.4" y="450" text-anchor="middle" textLength="27" lengthAdjust="spacing">300</text>
<text x="459.4" y="450" text-anchor="middle" textLength="27" lengthAdjust="spacing">350</text>
<text x="511.4" y="450" text-anchor="middle" textLength="27" lengthAdjust="spacing">400</text>
<text x="562.4" y="450" text-anchor="middle" textLength="27" lengthAdjust="spacing">450</text>
<text x="613.4" y="450" text-anchor="middle" textLength="27" lengthAdjust="spacing">500</text>
<text x="91" y="435" text-anchor="end" textLength="9" lengthAdjust="spacing">0</text>
<text x="91" y="371" text-anchor="end" textLength="45" lengthAdjust="spacing">20000</text>
<text x="91" y="307" text-anchor="end" textLength="45" lengthAdjust="spacing">40000</text>
<text x="91" y="243" text-anchor="end" textLength="45" lengthAdjust="spacing">60000</text>
<text x="91" y="179" text-anchor="end" textLength="45" lengthAdjust="spacing">80000</text>
<text x="91" y="115" text-anchor="end" textLength="54" lengthAdjust="spacing">100000</text>
<text x="91" y="51" text-anchor="end" textLength="54" lengthAdjust="spacing">120000</text>
<text x="240.9" y="27" textLength="229.4" lengthAdjust="spacing">maxDeleteUsecs vs Time for l.i2</text>
<text x="356" y="472" text-anchor="middle">Time(s)</text>
<text transform="translate(17,237.5) rotate(-90)" text-anchor="middle" textLength="122" lengthAdjust="spacing">maxDeleteUsecs</text>
<text y="61"><tspan x="340.1">my8044</tspan><tspan x="397.1" dy="3.8" font-size="12.8px">r</tspan><tspan x="400.7" dy="-3.8">el</tspan><tspan x="412.85" dy="3.8" font-size="12.8px">o</tspan><tspan x="419.8" dy="-3.8">2nofp.cz12a</tspan><tspan x="506.56" dy="3.8" font-size="12.8px">c</tspan><tspan x="512.96" dy="-3.8">8r32</tspan></text>
</g>
</svg>
</body></html>
